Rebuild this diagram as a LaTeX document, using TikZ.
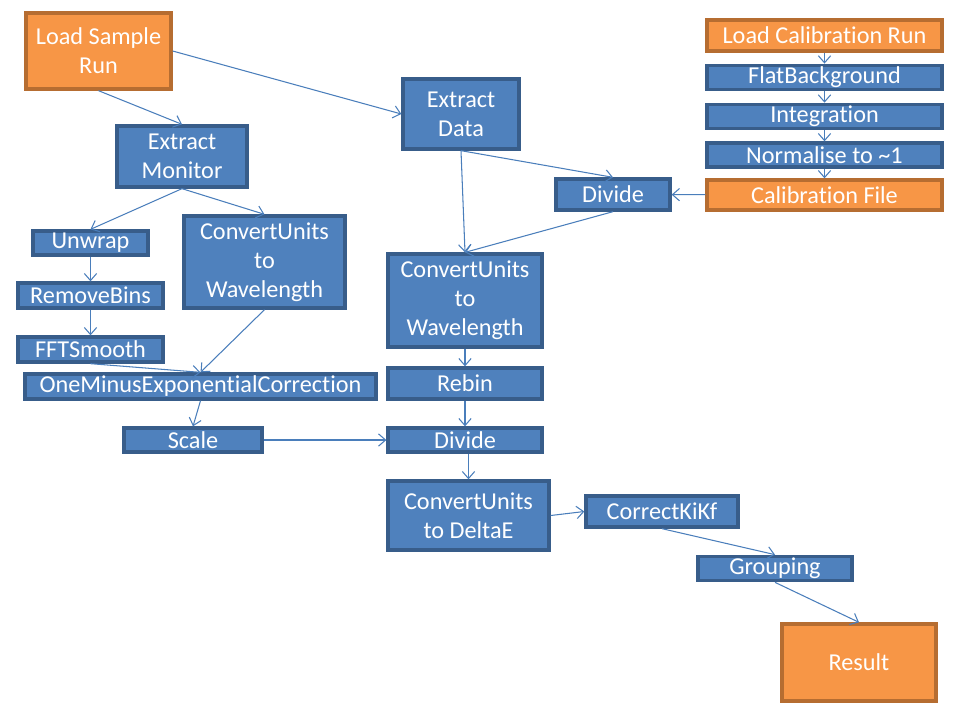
\documentclass[tikz,border=0pt]{standalone}
\usepackage{fontspec}
\setmainfont{Carlito}[Ligatures=NoCommon]
\usepackage{xcolor}
\usetikzlibrary{arrows.meta,positioning,calc}

\definecolor{boxblue}{HTML}{4F81BD}
\definecolor{edgeblue}{HTML}{385D8A}
\definecolor{boxorange}{HTML}{F79646}
\definecolor{edgeorange}{HTML}{B66D31}
\definecolor{lineblue}{HTML}{4A7EBB}

\begin{document}
\begin{tikzpicture}[
    x=0.02cm, y=-0.02cm,
    box/.style={draw=edgeblue, fill=boxblue, line width=1.9pt, text=white,
                align=center, inner sep=1pt, font=\fontsize{13.8}{16.5}\selectfont},
    iobox/.style={box, draw=edgeorange, fill=boxorange},
    arr/.style={-{Straight Barb[length=4pt,width=7pt]}, draw=lineblue, line width=0.6pt}
]
\useasboundingbox (0,0) rectangle (960,720);

% --- Sample run, left column ---
\node[iobox, minimum width=2.9cm, minimum height=1.52cm] (sample) at (98.5,51) {Load Sample\\Run};
\node[box, minimum width=2.6cm, minimum height=1.22cm] (monitor) at (182,156.5) {Extract\\Monitor};
\node[box, minimum width=2.3cm, minimum height=0.48cm] (unwrap) at (90.5,243) {Unwrap};
\node[box, minimum width=2.9cm, minimum height=0.5cm] (rembins) at (90.5,295.5) {RemoveBins};
\node[box, minimum width=2.9cm, minimum height=0.5cm] (fft) at (90.5,349.5) {FFTSmooth};
\node[box, minimum width=3.22cm, minimum height=1.84cm] (monwl) at (264.5,262) {ConvertUnits\\to\\Wavelength};
\node[box, minimum width=7.02cm, minimum height=0.5cm] (onemin) at (200.5,386.5) {OneMinusExponentialCorrection};
\node[box, minimum width=2.76cm, minimum height=0.48cm] (scale) at (193,440) {Scale};

% --- Data, centre column ---
\node[box, minimum width=2.32cm, minimum height=1.4cm] (extract) at (461,114) {Extract\\Data};
\node[box, minimum width=3.08cm, minimum height=1.86cm] (datawl) at (465,300.5) {ConvertUnits\\to\\Wavelength};
\node[box, minimum width=3.08cm, minimum height=0.62cm] (rebin) at (465,383.5) {Rebin};
\node[box, minimum width=3.08cm, minimum height=0.48cm] (divide) at (465,440) {Divide};
\node[box, minimum width=3.22cm, minimum height=1.38cm] (deltae) at (468.5,515.5) {ConvertUnits\\to DeltaE};
\node[box, minimum width=3.04cm, minimum height=0.62cm] (kikf) at (662,511.5) {CorrectKiKf};
\node[box, minimum width=3.08cm, minimum height=0.46cm] (group) at (775,568.5) {Grouping};
\node[iobox, minimum width=3.08cm, minimum height=1.54cm] (result) at (859,662.5) {Result};

% --- Calibration, right column ---
\node[iobox, minimum width=4.7cm, minimum height=0.62cm] (calrun) at (824.5,35.5) {Load Calibration Run};
\node[box, minimum width=4.7cm, minimum height=0.46cm] (flatbg) at (824.5,77.5) {FlatBackground};
\node[box, minimum width=4.7cm, minimum height=0.46cm] (integ) at (824.5,116.5) {Integration};
\node[box, minimum width=4.7cm, minimum height=0.48cm] (norm) at (824.5,155) {Normalise to \textasciitilde1};
\node[iobox, minimum width=4.7cm, minimum height=0.6cm] (calfile) at (824.5,195) {Calibration File};
\node[box, minimum width=2.28cm, minimum height=0.62cm] (divcal) at (613,194.5) {Divide};

% monitor branch
\draw[arr] (sample.south) -- (monitor.north);
\draw[arr] (monitor.south) -- (unwrap.north);
\draw[arr] (monitor.south) -- (monwl.north);
\draw[arr] (unwrap) -- (rembins);
\draw[arr] (rembins) -- (fft);
\draw[arr] (fft.south) -- (onemin.north);
\draw[arr] (monwl.south) -- (onemin.north);
\draw[arr] (onemin.south) -- (scale.north);
\draw[arr] (scale) -- (divide);

% data branch
\draw[arr] (sample.east) -- (extract.west);
\draw[arr] (extract.south) -- (datawl.north);
\draw[arr] (extract.south) -- (divcal.north);
\draw[arr] (divcal.south) -- (datawl.north);
\draw[arr] (datawl) -- (rebin);
\draw[arr] (rebin) -- (divide);
\draw[arr] (divide.south -| deltae.north) -- (deltae.north);
\draw[arr] (deltae.east) -- (kikf.west);
\draw[arr] (kikf.south) -- (group.north);
\draw[arr] (group.south) -- (result.north);

% calibration branch
\draw[arr] (calrun) -- (flatbg);
\draw[arr] (flatbg) -- (integ);
\draw[arr] (integ) -- (norm);
\draw[arr] (norm) -- (calfile);
\draw[arr] (calfile) -- (divcal);

\end{tikzpicture}
\end{document}
